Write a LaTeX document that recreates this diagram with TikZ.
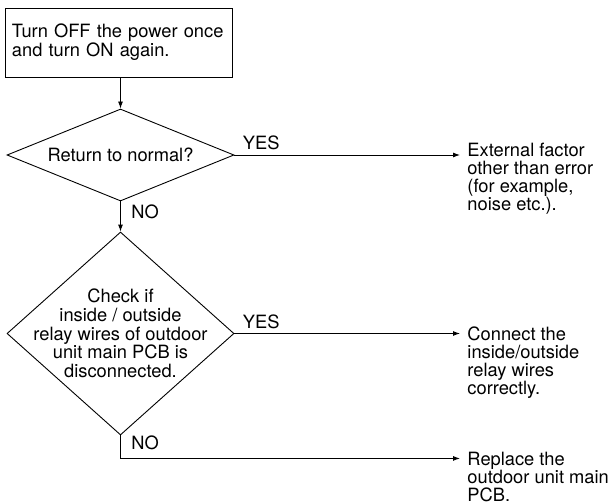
\documentclass[tikz,border=0pt]{standalone}
\usepackage{fontspec}
\setmainfont{TeX Gyre Heros}
\usetikzlibrary{positioning,arrows.meta,shapes.geometric,calc}

\begin{document}
\begin{tikzpicture}[
  x=1pt, y=-1pt,
  font=\fontsize{18.3}{18.7}\selectfont,
  line width=0.9pt,
  box/.style={draw, rectangle, minimum width=227pt, minimum height=69pt, text width=213pt, inner xsep=7pt, align=left},
  decision/.style={draw, diamond, inner sep=0pt, minimum width=227pt},
  result/.style={inner sep=0pt, align=left, anchor=north west, font=\fontsize{18.3}{18}\selectfont},
  lbl/.style={inner sep=0pt, anchor=base west},
  arr/.style={-{Latex[length=7pt,width=5pt]}}
]
\useasboundingbox (0,0) rectangle (614,503);

\node[box] (power) at (118.5,42.5) {Turn OFF the power once\\and turn ON again.};
\node[decision, minimum height=92pt] (normal) at (120.5,155) {};
\node at (normal) {Return to normal?};
\node[decision, minimum height=203pt] (relay) at (120.5,333.5) {};
\node[align=center] at (relay) {Check if\\inside / outside\\relay wires of outdoor\\unit main PCB is\\disconnected.};

\node[result] (external) at (467,143) {External factor\\other than error\\(for example,\\noise etc.).};
\node[result] (connect) at (467,326) {Connect the\\inside/outside\\relay wires\\correctly.};
\node[result] (replace) at (467,452) {Replace the\\outdoor unit main\\PCB.};

\coordinate (noDrop) at ($(relay.south)+(0,23)$);

\draw[arr] (normal.north |- power.south) -- (normal.north);
\draw[arr] (normal.south) -- (relay.north);
\draw[arr, shorten >=7pt] (normal.east) -- (normal.east -| external.west);
\draw[arr, shorten >=7pt] (relay.east) -- (relay.east -| connect.west);
\draw[arr, shorten >=7pt] (relay.south) -- (noDrop) -- (noDrop -| replace.west);

\node[lbl] at ([xshift=8pt,yshift=5.5pt]normal.east) {YES};
\node[lbl] at ([xshift=8pt,yshift=5.5pt]relay.east) {YES};
\node[lbl] at ([xshift=10.5pt,yshift=-17.5pt]normal.south) {NO};
\node[lbl] at ([xshift=10.5pt,yshift=-14.5pt]relay.south) {NO};
\end{tikzpicture}
\end{document}
